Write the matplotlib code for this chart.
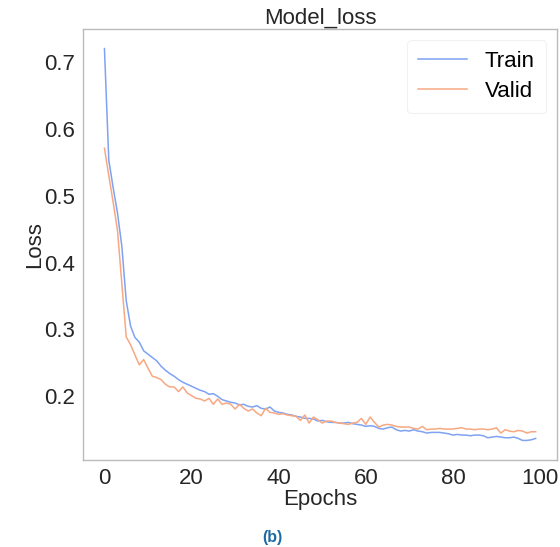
import matplotlib
matplotlib.use("Agg")
import matplotlib.pyplot as plt
import numpy as np

# values
train_loss = [0.720, 0.553, 0.512, 0.474, 0.424, 0.343, 0.305, 0.288, 0.281, 0.268,
              0.263, 0.258, 0.253, 0.245, 0.239, 0.234, 0.230, 0.225, 0.221, 0.218,
              0.215, 0.212, 0.209, 0.207, 0.203, 0.204, 0.200, 0.195, 0.193, 0.191,
              0.190, 0.187, 0.188, 0.185, 0.184, 0.186, 0.182, 0.181, 0.184, 0.178,
              0.176, 0.175, 0.173, 0.172, 0.170, 0.169, 0.167, 0.167, 0.166, 0.163,
              0.164, 0.162, 0.161, 0.161, 0.160, 0.160, 0.161, 0.159, 0.158, 0.157,
              0.155, 0.156, 0.155, 0.152, 0.151, 0.153, 0.154, 0.150, 0.148, 0.149,
              0.148, 0.150, 0.148, 0.147, 0.145, 0.146, 0.146, 0.146, 0.145, 0.144,
              0.142, 0.143, 0.142, 0.142, 0.141, 0.142, 0.142, 0.141, 0.138, 0.139,
              0.140, 0.139, 0.138, 0.138, 0.139, 0.137, 0.134, 0.134, 0.135, 0.137]

valid_loss = [0.571, 0.530, 0.490, 0.448, 0.368, 0.289, 0.277, 0.262, 0.247, 0.255,
              0.242, 0.230, 0.228, 0.225, 0.218, 0.214, 0.214, 0.207, 0.214, 0.205,
              0.201, 0.197, 0.196, 0.193, 0.197, 0.188, 0.196, 0.188, 0.190, 0.188,
              0.181, 0.188, 0.182, 0.178, 0.181, 0.175, 0.171, 0.182, 0.176, 0.175,
              0.173, 0.174, 0.172, 0.171, 0.170, 0.164, 0.172, 0.160, 0.169, 0.165,
              0.160, 0.163, 0.163, 0.161, 0.160, 0.159, 0.158, 0.160, 0.161, 0.167,
              0.158, 0.169, 0.161, 0.154, 0.157, 0.158, 0.157, 0.155, 0.154, 0.154,
              0.154, 0.152, 0.151, 0.155, 0.150, 0.151, 0.151, 0.152, 0.151, 0.151,
              0.151, 0.152, 0.153, 0.151, 0.151, 0.150, 0.151, 0.151, 0.150, 0.151,
              0.153, 0.145, 0.150, 0.148, 0.147, 0.149, 0.148, 0.145, 0.147, 0.147]

epochs = np.arange(len(train_loss))

plt.rcParams['font.family'] = ['Liberation Sans', 'DejaVu Sans']
plt.rcParams['font.size'] = 16

fig = plt.figure(figsize=(5.6, 5.47), dpi=100)
ax = fig.add_axes([0.148, 0.159, 0.847, 0.788])

ax.plot(epochs, train_loss, color='#7fa2f2', lw=1.1, label='Train')
ax.plot(epochs, valid_loss, color='#f7a882', lw=1.1, label='Valid')

for s in ax.spines.values():
    s.set_color('#bbbbbb')
    s.set_linewidth(1.0)
ax.tick_params(length=0, labelsize=16, colors='#262626', pad=6)
ax.set_yticks([0.2, 0.3, 0.4, 0.5, 0.6, 0.7])
ax.set_xticks([0, 20, 40, 60, 80, 100])

ax.set_title('Model_loss', fontsize=16, color='#262626', pad=2)
ax.set_xlabel('Epochs', fontsize=16, color='#262626', labelpad=0)
ax.set_ylabel('Loss', fontsize=16, color='#262626', labelpad=-1)

leg = ax.legend(loc='upper right', fontsize=16, frameon=True, fancybox=True,
                handlelength=2.2, borderpad=0.5, labelspacing=0.4)
leg.get_frame().set_edgecolor('#eeeeee')
leg.get_frame().set_linewidth(0.8)

fig.text(0.486, 0.018, '(b)', color='#1f6aa5', fontsize=11.5, fontweight='bold',
         ha='center', va='center')

fig.savefig('out.png', dpi=100)
